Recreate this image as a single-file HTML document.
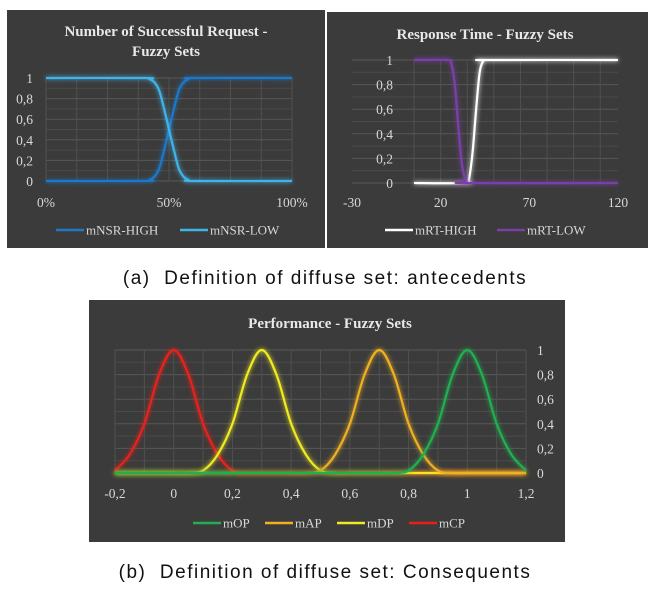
<!DOCTYPE html>
<html><head><meta charset="utf-8"><style>
html,body{margin:0;padding:0;background:#fff;}
body{width:650px;height:594px;position:relative;overflow:hidden;font-family:"Liberation Sans",sans-serif;}
.cap{position:absolute;left:0;width:650px;text-align:center;font-size:19px;letter-spacing:1.5px;color:#111;}
</style></head><body>
<svg id="svg" width="650" height="594" style="position:absolute;left:0;top:0">
<defs><filter id="glow" x="-20%" y="-20%" width="140%" height="140%"><feGaussianBlur stdDeviation="2.5" result="b"/><feMerge><feMergeNode in="b"/><feMergeNode in="SourceGraphic"/></feMerge></filter></defs>
<rect x="7" y="10" width="318" height="238" fill="#3b3b3b"/>
<rect x="327" y="12" width="321" height="236" fill="#3b3b3b"/>
<rect x="89" y="300" width="476" height="242" fill="#3b3b3b"/>
<g id="g1"></g><g id="g2"></g><g id="g3"></g>
</svg>
<div class="cap" style="top:268px">(a)&nbsp; Definition of diffuse set: antecedents</div>
<div class="cap" style="top:562px">(b)&nbsp; Definition of diffuse set: Consequents</div>
<script>
// Chart 1: Number of Successful Request
const nsrX=[0,40,42,44,46,48,50,52,54,56,58,60,100];
const nsrHigh=[0,0,0.01,0.04,0.12,0.3,0.5,0.7,0.88,0.96,0.99,1,1];
const nsrLow=[1,1,0.99,0.96,0.88,0.7,0.5,0.3,0.12,0.04,0.01,0,0];
const nsrXTicks=["0%","50%","100%"];
const nsrXTickVals=[0,50,100];
const yTicks=["0","0,2","0,4","0,6","0,8","1"];
const yTickVals=[0,0.2,0.4,0.6,0.8,1];
// Chart 2: Response Time
const rtLowX=[5,24,26,28,30,32,34,35,120];
const rtLow=[1,1,0.97,0.8,0.45,0.15,0.02,0,0];
const rtHighX=[5,35,36,38,40,42,44,46,120];
const rtHigh=[0,0,0.03,0.25,0.6,0.9,0.99,1,1];
const rtXTicks=["-30","20","70","120"];
const rtXTickVals=[-30,20,70,120];
// Chart 3: Performance
const perfX=[-0.2,-0.15,-0.1,-0.05,0,0.05,0.1,0.15,0.2,0.25,0.3,0.35,0.4,0.45,0.5,0.55,0.6,0.65,0.7,0.75,0.8,0.85,0.9,0.95,1,1.05,1.1,1.15,1.2];
const mCP=[0.02,0.15,0.4,0.8,1,0.8,0.4,0.15,0.02,0,0,0,0,0,0,0,0,0,0,0,0,0,0,0,0,0,0,0,0];
const mDP=[0,0,0,0,0,0,0.02,0.15,0.4,0.8,1,0.8,0.4,0.15,0.02,0,0,0,0,0,0,0,0,0,0,0,0,0,0];
const mAP=[0,0,0,0,0,0,0,0,0,0,0,0,0,0,0.02,0.15,0.4,0.8,1,0.8,0.4,0.15,0.02,0,0,0,0,0,0];
const mOP=[0,0,0,0,0,0,0,0,0,0,0,0,0,0,0,0,0,0,0,0,0.02,0.15,0.4,0.8,1,0.8,0.4,0.15,0.02];
const perfXTicks=["-0,2","0","0,2","0,4","0,6","0,8","1","1,2"];
const perfXTickVals=[-0.2,0,0.2,0.4,0.6,0.8,1,1.2];

const NS="http://www.w3.org/2000/svg";
function mk(tag,attrs,parent){const e=document.createElementNS(NS,tag);for(const k in attrs)e.setAttribute(k,attrs[k]);parent.appendChild(e);return e;}
function smooth(pts){let d="M"+pts[0][0]+","+pts[0][1];for(let i=0;i<pts.length-1;i++){const p0=pts[Math.max(0,i-1)],p1=pts[i],p2=pts[i+1],p3=pts[Math.min(pts.length-1,i+2)];
const c1x=p1[0]+(p2[0]-p0[0])/6,c1y=p1[1]+(p2[1]-p0[1])/6,c2x=p2[0]-(p3[0]-p1[0])/6,c2y=p2[1]-(p3[1]-p1[1])/6;
d+=" C"+c1x+","+c1y+" "+c2x+","+c2y+" "+p2[0]+","+p2[1];}return d;}
const serif='"Liberation Serif",serif';
function chart(g,cfg){
  const sx=v=>cfg.px0+(v-cfg.x0)/(cfg.x1-cfg.x0)*(cfg.px1-cfg.px0);
  const sy=v=>cfg.py0-(v)*(cfg.py0-cfg.py1);
  for(let i=0;i<=10;i++){const y=sy(i/10);
    const l=mk('line',{x1:cfg.gx0,x2:cfg.gx1,y1:y,y2:y,stroke:i%2?'#4a4a4a':'#585858','stroke-width':1},g);
    
    }
  cfg.vgrid.forEach(v=>{const x=sx(v);
    const l=mk('line',{x1:x,x2:x,y1:sy(1),y2:sy(0),stroke:'#505050','stroke-width':1},g);
    
    });
  cfg.title.forEach((t,i)=>{const e=mk('text',{x:cfg.tx,y:cfg.ty+i*20,'text-anchor':'middle',fill:'#e8e8e8','font-family':serif,'font-weight':'bold','font-size':15},g);e.textContent=t;
    
    });
  yTickVals.forEach((v,i)=>{const e=mk('text',{x:cfg.ylx,y:sy(v)+5,'text-anchor':cfg.yAnchor,fill:'#d8d8d8','font-family':serif,'font-size':13.5},g);e.textContent=yTicks[i];
    
    });
  cfg.xv.forEach((v,i)=>{const e=mk('text',{x:sx(v),y:cfg.xly,'text-anchor':'middle',fill:'#d8d8d8','font-family':serif,'font-size':13.5},g);e.textContent=cfg.xt[i];
    
    });
  cfg.series.forEach(s=>{const pts=s.x.map((xv,i)=>[sx(xv),sy(s.y[i])]);
    const p=mk('path',{d:smooth(pts),fill:'none',stroke:s.c,'stroke-width':2.2,filter:'url(#glow)'},g);
    
    });
  let lx=cfg.legX;
  cfg.series.slice().sort((a,b)=>a.o-b.o).forEach(s=>{
    const l=mk('line',{x1:lx,x2:lx+28,y1:cfg.legY,y2:cfg.legY,stroke:s.c,'stroke-width':2.5},g);
    
    
    const t=mk('text',{x:lx+30,y:cfg.legY+4.5,fill:'#d8d8d8','font-family':serif,'font-size':13},g);t.textContent=s.n;
    
    
    lx+=cfg.legStep;});
}
chart(document.getElementById('g1'),{x0:0,x1:100,px0:46,px1:292,py0:181,py1:78,gx0:46,gx1:292,vgrid:[0,12.5,25,37.5,50,62.5,75,87.5,100],
 title:["Number of Successful  Request -","Fuzzy Sets"],tx:166,ty:36,ylx:33,yAnchor:'end',xv:nsrXTickVals,xt:nsrXTicks,xly:207,
 series:[{n:'mNSR-HIGH',x:nsrX,y:nsrHigh,c:'#1f78c8',o:0},{n:'mNSR-LOW',x:nsrX,y:nsrLow,c:'#3fb4e8',o:1}],legX:56,legStep:124,legY:230});
chart(document.getElementById('g2'),{x0:-30,x1:120,px0:352,px1:618,py0:183,py1:60,gx0:352,gx1:618,vgrid:[5,20,35,50,65,80,95,110],
 title:["Response Time - Fuzzy Sets"],tx:485,ty:39,ylx:393,yAnchor:'end',xv:rtXTickVals,xt:rtXTicks,xly:207,
 series:[{n:'mRT-HIGH',x:rtHighX,y:rtHigh,c:'#ffffff',o:0},{n:'mRT-LOW',x:rtLowX,y:rtLow,c:'#7a3fa8',o:1}],legX:385,legStep:112,legY:230});
chart(document.getElementById('g3'),{x0:-0.2,x1:1.2,px0:115,px1:526,py0:473,py1:350,gx0:115,gx1:526,vgrid:[-0.2,-0.1,0,0.1,0.2,0.3,0.4,0.5,0.6,0.7,0.8,0.9,1,1.1,1.2],
 title:["Performance - Fuzzy Sets"],tx:330,ty:328,ylx:537,yAnchor:'start',xv:perfXTickVals,xt:perfXTicks,xly:498,
 series:[{n:'mCP',x:perfX,y:mCP,c:'#e8201a',o:3},{n:'mDP',x:perfX,y:mDP,c:'#f0ea20',o:2},{n:'mAP',x:perfX,y:mAP,c:'#f0b020',o:1},{n:'mOP',x:perfX,y:mOP,c:'#20b050',o:0}],legX:193,legStep:72,legY:523});
</script>
</body></html>
